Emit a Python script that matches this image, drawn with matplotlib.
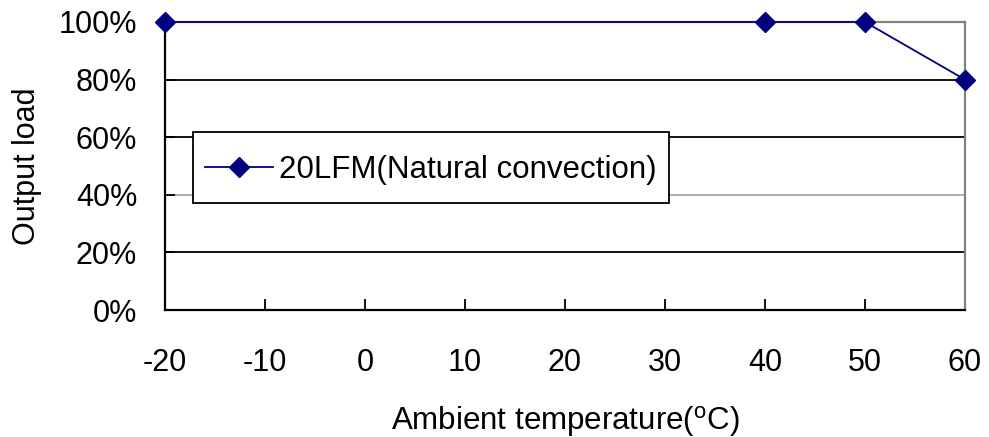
import numpy as np
import matplotlib.pyplot as plt

plt.rcParams['font.family'] = ['Liberation Sans', 'DejaVu Sans']
plt.rcParams['mathtext.fontset'] = 'custom'
plt.rcParams['mathtext.rm'] = 'Liberation Sans'
plt.rcParams['axes.unicode_minus'] = False

# data
temps = [-20, 40, 50, 60]
load = [100, 100, 100, 80]
x_ticks = [-20, -10, 0, 10, 20, 30, 40, 50, 60]
y_ticks = [0, 20, 40, 60, 80, 100]
series_name = "20LFM(Natural convection)"

fig = plt.figure(figsize=(9.89, 4.37), dpi=100)
ax = fig.add_axes([0.1668, 0.2906, 0.8089, 0.6591])

# horizontal grid lines (40% one is lighter in the original)
for yv in y_ticks[1:-1]:
    col = '#a8a8a8' if yv == 40 else 'black'
    ax.axhline(yv, color=col, lw=1.3, zorder=1)

ax.plot(temps, load, color='#000080', lw=1.3, marker='D', markersize=10,
        label=series_name, zorder=3, clip_on=False)

ax.set_xlim(-20, 60)
ax.set_ylim(0, 100)
ax.set_xticks(x_ticks)
ax.set_yticks(y_ticks)
ax.set_yticklabels([f"{v}%" for v in y_ticks])
ax.tick_params(axis='x', direction='in', length=8, width=1.3, labelsize=22, pad=27)
ax.tick_params(axis='y', direction='in', length=7, width=1.3, labelsize=22, pad=20)

for side in ['left', 'bottom']:
    ax.spines[side].set_color('black')
    ax.spines[side].set_linewidth(1.6)
for side in ['top', 'right']:
    ax.spines[side].set_color('#808080')
    ax.spines[side].set_linewidth(1.6)

ax.set_xlabel(r"Ambient temperature($^{\mathrm{o}}$C)", fontsize=22.5, labelpad=19)
ax.set_ylabel("Output load", fontsize=22, labelpad=12)

leg = ax.legend(loc='upper left', bbox_to_anchor=(0.035, 0.618), fontsize=22.5,
                frameon=True, fancybox=False, edgecolor='black', framealpha=1,
                handlelength=2.15, handleheight=1.9, borderpad=0.4,
                handletextpad=0.2, borderaxespad=0)
leg.get_frame().set_linewidth(1.3)
# taller handle box lifts the line; put it back level with the text
for ln in leg.get_lines():
    ln.set_ydata(np.asarray(ln.get_ydata()) - 4.5)

fig.savefig("out.png", dpi=100)
